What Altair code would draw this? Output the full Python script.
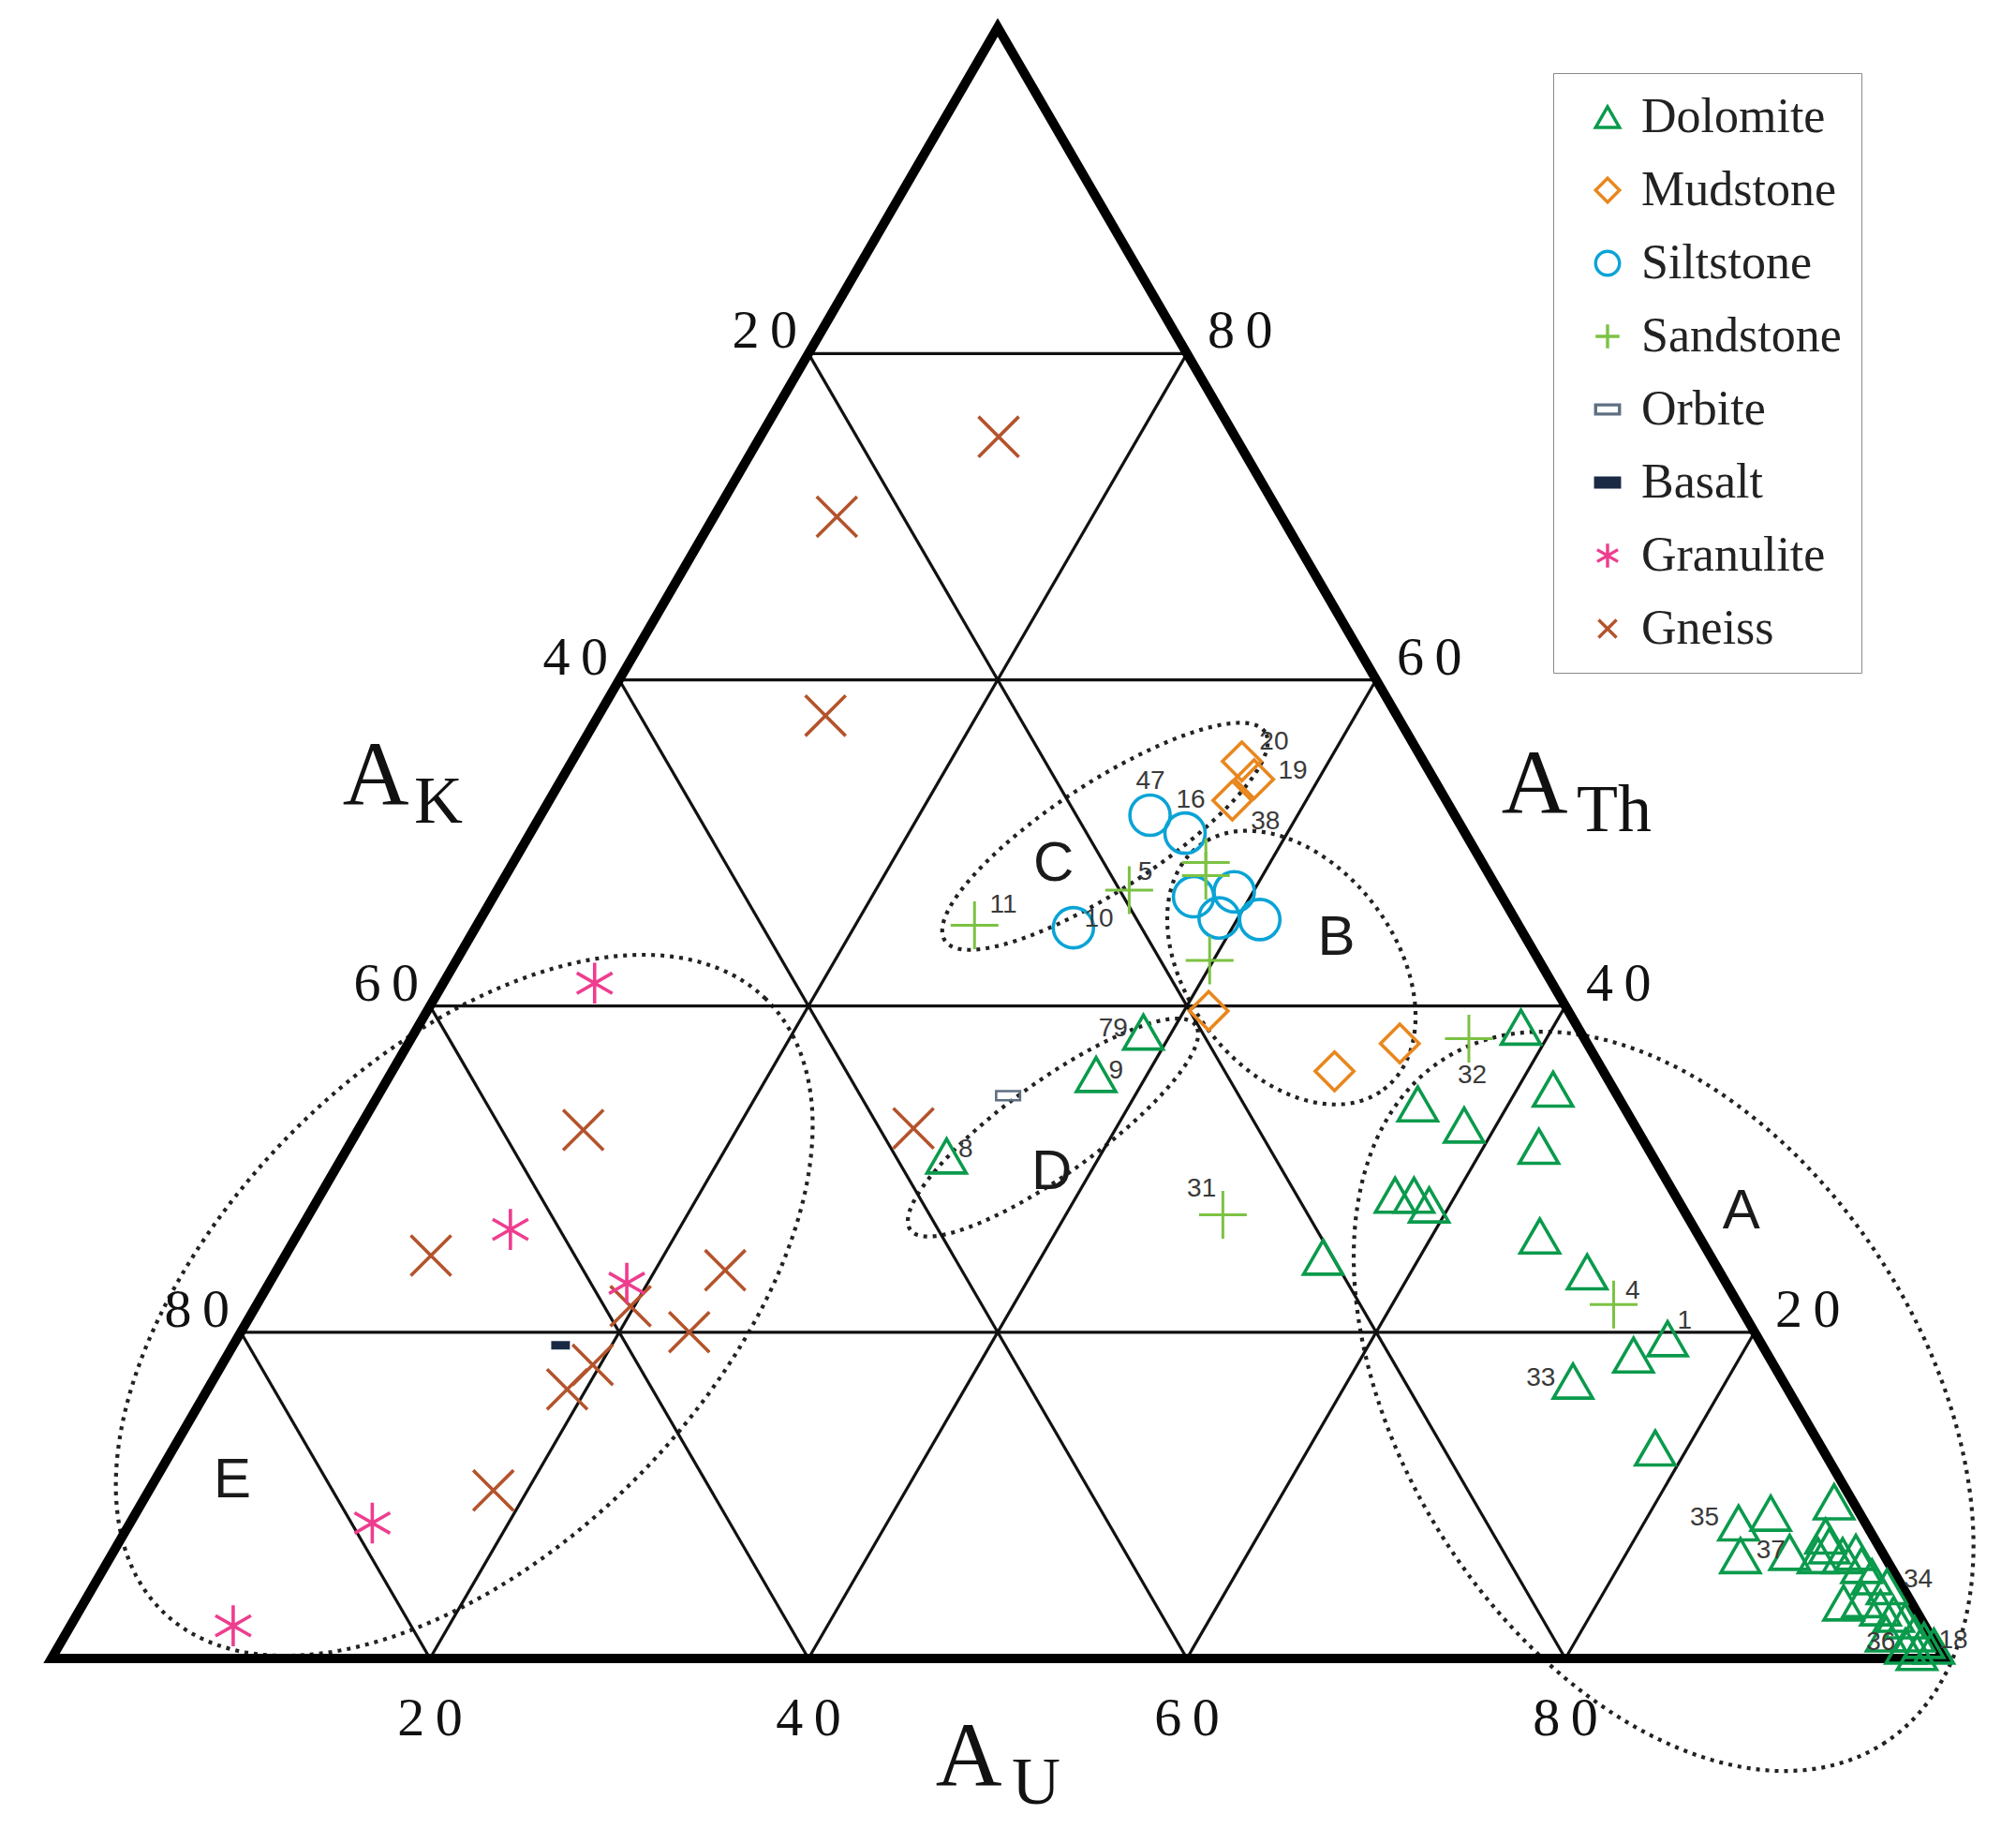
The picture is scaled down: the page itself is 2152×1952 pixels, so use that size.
import altair as alt
import numpy as np
import pandas as pd

ROCKS = ["Dolomite", "Mudstone", "Siltstone", "Sandstone", "Orbite", "Basalt", "Granulite", "Gneiss"]

# ---- data (percent A_U and A_Th; A_K = 100 - A_U - A_Th) ----
dolomite_u = [38.5, 37.3, 31.9, 58.3, 55.2, 58.3, 56.8, 57.8, 58.9, 54.9, 61.9, 62.9, 65.7, 69.3, 75.6, 74.3, 71.9, 78.3,
              85.0, 86.4, 89.4, 86.1, 88.6, 90.0, 90.2, 90.5, 91.5, 92.1, 92.8, 93.7, 94.8, 93.0, 93.9, 95.1, 96.0,
              96.8, 97.7, 98.4, 99.1, 96.2, 97.6, 98.4]
dolomite_th = [38.4, 35.8, 30.8, 38.7, 34.0, 32.7, 28.4, 28.4, 27.8, 24.6, 34.9, 31.4, 25.9, 23.7, 19.6, 18.6, 17.0, 12.9,
               8.3, 8.9, 9.6, 6.3, 6.5, 7.5, 6.3, 6.9, 6.3, 6.5, 5.7, 5.0, 4.4, 3.4, 3.6, 3.1, 2.7,
               2.3, 1.5, 1.1, 0.75, 1.5, 0.75, 0.36]
mudstone_u = [35.4, 36.6, 36.1, 41.3, 49.8, 52.4]
mudstone_th = [55.0, 53.9, 52.6, 39.7, 36.0, 37.7]
siltstone_u = [32.2, 34.6, 31.6, 37.0, 39.0, 39.0, 41.2]
siltstone_th = [51.7, 50.6, 44.8, 46.7, 47.0, 45.4, 45.3]
sandstone_u = [26.3, 33.4, 36.6, 37.0, 39.8, 48.3, 55.9, 71.7]
sandstone_th = [44.95, 47.1, 48.8, 48.0, 42.8, 27.2, 38.0, 21.7]
orbite_u = [33.3]
orbite_th = [34.5]
basalt_u = [17.3]
basalt_th = [19.2]
granulite_u = [8.0, 11.1, 18.9, 12.8, 8.6]
granulite_th = [41.4, 26.3, 23.0, 8.3, 2.0]
gneiss_u = [12.6, 6.5, 12.0, 11.9, 7.7, 29.3, 23.7, 19.8, 23.7, 19.6, 19.0, 18.2]
gneiss_th = [74.9, 70.0, 57.8, 32.4, 24.7, 32.5, 23.8, 21.6, 20.0, 18.0, 16.5, 10.3]

# sample numbers written beside points
sample_labels = ["11", "10", "5", "47", "16", "20", "19", "38", "79", "9", "8", "31", "32", "4", "1", "33",
                 "35", "37", "34", "36", "18"]
label_u = [27.2, 32.7, 33.7, 31.2, 33.9, 36.5, 38.4, 38.5, 36.8, 38.25, 32.7, 46.4, 57.2, 72.3, 75.95, 70.1,
           83.05, 87.56, 96.24, 96.2, 99.95]
label_th = [46.2, 45.3, 48.2, 53.75, 52.6, 56.2, 54.4, 51.3, 38.6, 36.0, 31.2, 28.75, 35.75, 22.5, 20.7, 17.2,
            8.6, 6.6, 4.8, 0.95, 1.1]

# field letters
field_names = ["A", "B", "C", "D", "E"]
field_u = [75.6, 45.8, 28.6, 37.95, 4.1]
field_th = [27.4, 44.2, 48.7, 29.8, 10.9]

# dotted field ellipses: centre (cartesian units), semi-axes, rotation (deg)
ell_names = ["A", "B", "C", "D", "E"]
ell_cx = [85.19, 65.52, 55.67, 52.92, 21.81]
ell_cy = [13.65, 36.68, 43.65, 28.19, 18.75]
ell_a = [21.57, 8.10, 10.11, 9.29, 22.77]
ell_b = [13.72, 5.50, 2.85, 2.45, 12.92]
ell_rot = [-57.5, -53.0, 33.2, 35.8, 45.6]

TICKS = [20, 40, 60, 80]

# ---- styles ----
COLORS = ["#0a9a4c", "#e8871e", "#0aa3d6", "#7cc243", "#5f6f82", "#1b2a44", "#ee3d8f", "#b4532c"]
PLUS = "M-1,0L1,0M0,-1L0,1"
XSHAPE = "M-0.75,-0.75L0.75,0.75M-0.75,0.75L0.75,-0.75"
AST = "M0,-1L0,1M-0.87,-0.5L0.87,0.5M-0.87,0.5L0.87,-0.5"
RECT = "M-1,-0.38L1,-0.38L1,0.38L-1,0.38Z"
SHAPES = ["triangle-up", "diamond", "circle", PLUS, RECT, RECT, AST, XSHAPE]
FILLS = ["transparent"] * 5 + ["#1b2a44"] + ["transparent"] * 2
SIZES = {"Dolomite": 1750, "Mudstone": 1700, "Siltstone": 1850, "Sandstone": 2600,
         "Orbite": 650, "Basalt": 300, "Granulite": 1900, "Gneiss": 3300}

series = {
    "Dolomite": (dolomite_u, dolomite_th), "Mudstone": (mudstone_u, mudstone_th),
    "Siltstone": (siltstone_u, siltstone_th), "Sandstone": (sandstone_u, sandstone_th),
    "Orbite": (orbite_u, orbite_th), "Basalt": (basalt_u, basalt_th),
    "Granulite": (granulite_u, granulite_th), "Gneiss": (gneiss_u, gneiss_th),
}
rows = []
for rock, (us, ths) in series.items():
    for u, t in zip(us, ths):
        rows.append({"rock": rock, "U": u, "Th": t})
points = pd.DataFrame(rows)

# ---- scales (equal-ish aspect, triangle base 0..100) ----
W, H = 2136, 1936
xs = alt.Scale(domain=[-2.327, 103.416], nice=False, zero=False)
ys = alt.Scale(domain=[-8.66, 87.66], nice=False, zero=False)
TO_X = "datum.U + datum.Th / 2"
TO_Y = "datum.Th * sqrt(3) / 2"


def X(f="x"):
    return alt.X(f + ":Q", scale=xs, axis=None)


def Y(f="y"):
    return alt.Y(f + ":Q", scale=ys, axis=None)


# grid lines
grid_rows = []
for v in TICKS:
    grid_rows.append({"U1": 0, "T1": v, "U2": 100 - v, "T2": v})      # constant A_Th
    grid_rows.append({"U1": v, "T1": 0, "U2": v, "T2": 100 - v})      # constant A_U
    grid_rows.append({"U1": 100 - v, "T1": 0, "U2": 0, "T2": 100 - v})  # constant A_K
grid = alt.Chart(pd.DataFrame(grid_rows)).transform_calculate(
    x="datum.U1 + datum.T1 / 2", y="datum.T1 * sqrt(3) / 2",
    x2="datum.U2 + datum.T2 / 2", y2="datum.T2 * sqrt(3) / 2",
).mark_rule(color="#111", strokeWidth=3.2).encode(x=X(), y=Y(), x2="x2:Q", y2="y2:Q")

# outer frame
frame_df = pd.DataFrame({"U": [0, 100, 0, 0, 100], "Th": [0, 0, 100, 0, 0], "i": [0, 1, 2, 3, 4]})
frame = alt.Chart(frame_df).transform_calculate(x=TO_X, y=TO_Y).mark_line(
    color="#000", strokeWidth=10, strokeJoin="miter"
).encode(x=X(), y=Y(), order="i:Q")

# ellipses
erows = []
tt = np.linspace(0, 2 * np.pi, 241)
for n, cx, cy, a, b, r in zip(ell_names, ell_cx, ell_cy, ell_a, ell_b, ell_rot):
    ph = np.deg2rad(r)
    for i, t in enumerate(tt):
        erows.append({"e": n, "i": i,
                      "x": cx + a * np.cos(t) * np.cos(ph) - b * np.sin(t) * np.sin(ph),
                      "y": cy + a * np.cos(t) * np.sin(ph) + b * np.sin(t) * np.cos(ph)})
ellipses = alt.Chart(pd.DataFrame(erows)).mark_line(
    color="#222", strokeWidth=4.2, strokeDash=[4, 6]
).encode(x=X(), y=Y(), detail="e:N", order="i:Q")

# points
legend = alt.Legend(
    title=None, orient="none", legendX=1650, legendY=70,
    labelFont="Liberation Serif", labelFontSize=52, labelColor="#222", labelLimit=400,
    symbolSize=650, symbolStrokeWidth=3.4, symbolOffset=11, labelOffset=10,
    rowPadding=26, padding=21, strokeColor="#8a8a8a",
)
shape_enc = alt.Shape("rock:N", scale=alt.Scale(domain=ROCKS, range=SHAPES), legend=legend)
stroke_enc = alt.Stroke("rock:N", scale=alt.Scale(domain=ROCKS, range=COLORS), legend=legend)
fill_enc = alt.Fill("rock:N", scale=alt.Scale(domain=ROCKS, range=FILLS), legend=legend)

draw_order = ["Gneiss", "Granulite", "Basalt", "Orbite", "Mudstone", "Siltstone", "Sandstone", "Dolomite"]
point_layers = []
for rock in draw_order:
    sw = 3.0 if rock in ("Sandstone",) else 3.6
    if rock in ("Orbite", "Basalt"):
        sw = 2.6
    point_layers.append(
        alt.Chart(points).transform_filter(alt.datum.rock == rock).transform_calculate(x=TO_X, y=TO_Y)
        .mark_point(filled=False, size=SIZES[rock], strokeWidth=sw, opacity=1)
        .encode(x=X(), y=Y(), shape=shape_enc, stroke=stroke_enc, fill=fill_enc)
    )

# sample number labels
lab_df = pd.DataFrame({"t": sample_labels, "U": label_u, "Th": label_th})
labels = alt.Chart(lab_df).transform_calculate(x=TO_X, y=TO_Y).mark_text(
    font="Liberation Sans", fontSize=28, color="#3a3a3a", align="center", baseline="middle"
).encode(x=X(), y=Y(), text="t:N")

fld_df = pd.DataFrame({"t": field_names, "U": field_u, "Th": field_th})
fields = alt.Chart(fld_df).transform_calculate(x=TO_X, y=TO_Y).mark_text(
    font="Liberation Sans", fontSize=60, color="#1a1a1a", align="center", baseline="middle"
).encode(x=X(), y=Y(), text="t:N")

# tick labels
tick_df = pd.DataFrame({"v": TICKS, "s": [f"{v // 10}\u2009{v % 10}" for v in TICKS]})
tick_font = dict(font="Liberation Serif", fontSize=58, color="#111", baseline="alphabetic")
left_ticks = alt.Chart(tick_df).transform_calculate(U="0", Th="100 - datum.v").transform_calculate(
    x=TO_X, y=TO_Y).mark_text(align="right", dx=-12, dy=-6, **tick_font).encode(x=X(), y=Y(), text="s:N")
right_ticks = alt.Chart(tick_df).transform_calculate(U="100 - datum.v", Th="datum.v").transform_calculate(
    x=TO_X, y=TO_Y).mark_text(align="left", dx=22, dy=-6, **tick_font).encode(x=X(), y=Y(), text="s:N")
bottom_ticks = alt.Chart(tick_df).transform_calculate(U="datum.v", Th="0").transform_calculate(
    x=TO_X, y=TO_Y).mark_text(align="center", dy=82, **tick_font).encode(x=X(), y=Y(), text="s:N")

# axis titles A_K, A_Th, A_U (main letter + subscript)
title_main = pd.DataFrame({"t": ["A", "A", "A"], "x": [17.13, 78.37, 48.47], "y": [45.37, 44.93, -6.72]})
title_sub = pd.DataFrame({"t": ["K", "Th", "U"], "x": [19.16, 80.59, 50.74], "y": [44.38, 43.93, -7.71]})
t_main = alt.Chart(title_main).mark_text(
    font="Liberation Serif", fontSize=98, color="#111", align="center", baseline="alphabetic"
).encode(x=X(), y=Y(), text="t:N")
t_sub = alt.Chart(title_sub).mark_text(
    font="Liberation Serif", fontSize=72, color="#111", align="left", baseline="alphabetic"
).encode(x=X(), y=Y(), text="t:N")

chart = alt.layer(
    ellipses, grid, frame, *point_layers, labels, fields,
    left_ticks, right_ticks, bottom_ticks, t_main, t_sub
).properties(
    width=W, height=H, padding=0, autosize="none", background="white"
).configure_view(stroke=None)

chart.save("out.html", embed_options={"renderer": "svg", "actions": False})
